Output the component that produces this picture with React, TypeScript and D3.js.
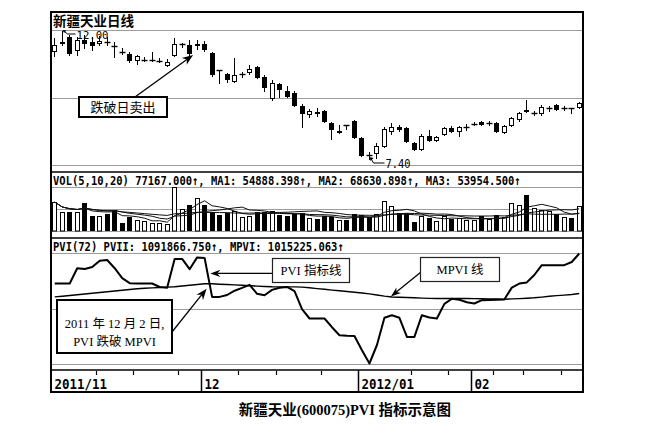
import React from "react";
import * as d3 from "d3";

// ---------------- data ----------------
const opens = [
  11.25, 11.54, 11.77, 11.29, 11.68, 11.61, 11.54, 11.61, 11.47, 11.25,
  11.18, 10.93, 10.97, 10.93, 10.91, 10.75, 11.11, 11.54, 11.5, 11.47,
  11.54, 11.22, 10.61, 10.47, 10.18, 10.43, 10.5, 10.72, 10.36, 9.57,
  10.11, 9.86, 9.79, 9.33, 9.0, 9.11, 9.15, 8.72, 8.36, 8.65,
  8.79, 8.18, 7.58, 7.61, 7.86, 8.4, 8.58, 8.54, 8.01, 7.76,
  8.26, 8.08, 8.29, 8.54, 8.4, 8.54, 8.68, 8.75, 8.72, 8.72,
  8.36, 8.61, 8.83, 9.18, 9.04, 9.04, 9.25, 9.36, 9.25, 9.25,
  9.25,
];
const closes = [
  11.5, 11.61, 11.18, 11.68, 11.54, 11.47, 11.64, 11.59, 11.45, 11.23,
  10.93, 11.11, 10.98, 10.95, 10.93, 10.89, 11.54, 11.55, 11.18, 11.54,
  11.32, 10.43, 10.57, 10.25, 10.43, 10.45, 10.64, 10.32, 9.97, 10.15,
  9.9, 9.65, 9.33, 9.04, 9.15, 9.04, 8.75, 8.47, 8.43, 8.61,
  8.18, 7.54, 7.56, 7.9, 8.51, 8.58, 8.47, 8.04, 7.76, 8.26,
  8.08, 8.22, 8.54, 8.4, 8.58, 8.56, 8.7, 8.65, 8.72, 8.4,
  8.61, 8.9, 9.08, 9.11, 9.06, 9.29, 9.25, 9.18, 9.27, 9.24,
  9.43,
];
const highs = [
  11.75, 12.0, 11.86, 11.79, 11.86, 11.79, 11.82, 11.79, 11.61, 11.39,
  11.25, 11.14, 11.07, 11.25, 11.04, 11.0, 11.75, 11.57, 11.68, 11.68,
  11.64, 11.25, 10.61, 10.5, 11.04, 10.54, 10.79, 10.75, 10.43, 10.25,
  10.15, 10.04, 9.86, 9.4, 9.22, 9.25, 9.18, 8.75, 8.65, 8.65,
  8.83, 8.22, 7.68, 8.01, 8.58, 8.72, 8.65, 8.58, 8.04, 8.33,
  8.47, 8.26, 8.58, 8.61, 8.61, 8.68, 8.75, 8.79, 8.79, 8.75,
  8.65, 8.93, 9.11, 9.54, 9.15, 9.36, 9.33, 9.4, 9.33, 9.27,
  9.47,
];
const lows = [
  11.07, 11.47, 11.11, 11.11, 11.36, 11.29, 11.47, 11.47, 11.04, 11.14,
  10.86, 10.79, 10.89, 10.89, 10.86, 10.72, 11.07, 11.39, 11.11, 11.32,
  11.25, 10.36, 10.11, 10.15, 10.15, 10.32, 10.43, 10.29, 9.82, 9.5,
  9.61, 9.61, 9.29, 8.54, 8.9, 8.93, 8.72, 8.11, 8.33, 8.47,
  8.15, 7.51, 7.4, 7.44, 7.83, 8.29, 8.4, 8.01, 7.72, 7.72,
  8.04, 8.04, 8.26, 8.36, 8.22, 8.43, 8.61, 8.61, 8.61, 8.36,
  8.33, 8.58, 8.75, 9.08, 8.97, 8.97, 9.11, 9.15, 9.15, 9.04,
  9.22,
];
const volumes = [
  89500, 59000, 58000, 59500, 87000, 47500, 47000, 52500, 65000, 25000,
  44000, 34000, 29500, 25000, 25500, 22000, 136000, 68000, 80000, 103000,
  80000, 59000, 50000, 56000, 62000, 44000, 47000, 58000, 60000, 62000,
  48000, 45000, 52000, 55000, 40000, 38000, 46000, 44000, 35000, 33000,
  52000, 50000, 42000, 52000, 93000, 77000, 56000, 57000, 27000, 45000,
  40000, 32000, 45000, 38000, 40000, 34000, 33000, 45000, 36000, 48000,
  42000, 88000, 80000, 110000, 70000, 64000, 62000, 52000, 43000, 40000,
  77167,
];
const pviValues = [
  1034385, 1034385, 1034385, 1063700, 1062167, 1065999, 1078070, 1079411, 1063700, 1044540,
  1034960, 1034385, 1034385, 1034385, 1027679, 1026338, 1081327, 1081519, 1061784, 1084393,
  1083243, 1008711, 1008711, 1012351, 1020590, 1025955, 1031894, 1014650, 1011968, 1022123,
  1026338, 1027871, 1019632, 985144, 967325, 967325, 967325, 950656, 935328, 934370,
  933795, 906588, 881105, 916551, 968858, 973647, 968666, 932071, 932071, 973647,
  969241, 967325, 995299, 1005262, 1003346, 998556, 996065, 1002388, 1002771, 1003346,
  1003729, 1026529, 1034193, 1036494, 1050671, 1069448, 1069448, 1069448, 1069448, 1075579,
  1091866.75,
];
const mpviValues = [
  1008711, 1010052, 1011393, 1012926, 1014267, 1015608, 1017141, 1018482, 1020015, 1021356,
  1022889, 1024230, 1025188, 1025955, 1026721, 1027487, 1028254, 1029595, 1031128, 1032469,
  1034002, 1033810, 1033044, 1032469, 1031703, 1030936, 1030170, 1029403, 1028637, 1028062,
  1027871, 1027871, 1027871, 1027487, 1026146, 1024613, 1023272, 1021739, 1020398, 1019057,
  1017524, 1016183, 1014459, 1012351, 1010243, 1008519, 1008136, 1007561, 1006987, 1006412,
  1005837, 1005645, 1005645, 1005645, 1005645, 1005645, 1005453, 1005070, 1004879, 1004687,
  1004304, 1004879, 1005453, 1006220, 1006987, 1008327, 1009860, 1011201, 1012159, 1013309,
  1015225.063,
];
const maPeriods = [5, 10, 20];
const monthLabels = ["2011/11", "12", "2012/01", "02"];
const monthStarts = [0, 20, 41, 56];
const weekTicks = [6, 11, 17, 25, 30, 36, 48, 53, 59, 63, 68];

const titleText = "新疆天业日线";
const volHeader = "VOL(5,10,20) 77167.000↑, MA1: 54888.398↑, MA2: 68630.898↑, MA3: 53954.500↑";
const pviHeader = "PVI(72) PVII: 1091866.750↑, MPVI: 1015225.063↑";
const captionText = "新疆天业(600075)PVI 指标示意图";
const sellNote = "跌破日卖出";
const pviNote = "PVI 指标线";
const mpviNote = "MPVI 线";
const crossNote = ["2011 年 12 月 2 日,", "PVI 跌破 MPVI"];
const crossIndex = 21;
const sellIndex = 18;

// ---------------- layout ----------------
const LEFT = 51;
const RIGHT = 583;
const FRAME_TOP = 12;
const FRAME_BOTTOM = 392;
const PRICE_RANGE: [number, number] = [160, 31];
const PRICE_GRID = [30, 97.5, 165];
const VOL_RANGE: [number, number] = [231, 187];
const VOL_GRID = [187, 209, 231];
const PVI_RANGE: [number, number] = [363.5, 253.5];
const PVI_GRID = [253, 308.5, 364];
const SEP = [172, 238, 370];

const MONO = "'DejaVu Sans Mono', 'Liberation Mono', monospace";
const CJK = "'Noto Sans CJK SC', sans-serif";
const SERIF = "'Liberation Serif', 'Noto Sans CJK SC', serif";

function Arrow(props: { x1: number; y1: number; x2: number; y2: number; head?: number; half?: number; sw?: number }) {
  const { x1, y1, x2, y2, head = 10, half = 3.6, sw = 1.3 } = props;
  const a = Math.atan2(y2 - y1, x2 - x1);
  const bx = x2 - head * Math.cos(a);
  const by = y2 - head * Math.sin(a);
  const px = -Math.sin(a) * half;
  const py = Math.cos(a) * half;
  const nx = x2 - head * 0.7 * Math.cos(a);
  const ny = y2 - head * 0.7 * Math.sin(a);
  return (
    <g>
      <line x1={x1} y1={y1} x2={nx} y2={ny} stroke="#000" strokeWidth={sw} />
      <path d={`M${x2},${y2}L${bx + px},${by + py}L${nx},${ny}L${bx - px},${by - py}Z`} fill="#000" />
    </g>
  );
}

export default function App() {
  const n = opens.length;
  const idx = d3.range(n);
  const x = d3.scaleBand<number>().domain(idx).range([LEFT, RIGHT]);
  const step = x.step();
  const cRaw = (i: number) => (x(i) as number) + step / 2;
  const cI = (i: number) => Math.floor(cRaw(i));

  const yP = d3.scaleLinear().domain([d3.min(lows) as number, d3.max(highs) as number]).range(PRICE_RANGE);
  const yV = d3.scaleLinear().domain([0, d3.max(volumes) as number]).range(VOL_RANGE);
  const pviExtent = d3.extent([...pviValues, ...mpviValues]) as [number, number];
  const yI = d3.scaleLinear().domain(pviExtent).range(PVI_RANGE);

  const maSeries = maPeriods.map((p) =>
    idx.map((i) => d3.mean(volumes.slice(Math.max(0, i - p + 1), i + 1)) as number)
  );
  const volLine = d3
    .line<number>()
    .x((_, i) => cRaw(i))
    .y((d) => yV(d));
  const pviLine = d3
    .line<number>()
    .x((_, i) => cRaw(i))
    .y((d) => yI(d));

  const hiVal = d3.max(highs) as number;
  const hiIdx = highs.indexOf(hiVal);
  const loVal = d3.min(lows) as number;
  const loIdx = lows.indexOf(loVal);
  const hx = cI(hiIdx) + 0.5;
  const hy = yP(hiVal);
  const lx = cI(loIdx) + 0.5;
  const ly = yP(loVal);

  // annotation anchors from data
  const sellTipX = cRaw(sellIndex) + 3.5;
  const sellTipY = yP(lows[sellIndex]) - 1;
  const dropX = (cRaw(crossIndex - 1) + cRaw(crossIndex)) / 2;
  const dropY = (yI(pviValues[crossIndex - 1]) + yI(pviValues[crossIndex])) / 2 - 4;
  const crossTipX = cRaw(crossIndex - 1) + 2;
  const crossTipY = yI(mpviValues[crossIndex - 1]) + 5;
  const mpviTipX = cRaw(45) - 1;
  const mpviTipY = yI(mpviValues[45]) - 0.5;

  return (
    <svg width={653} height={435} viewBox="0 0 653 435" style={{ display: "block", position: "absolute", left: 0, top: 0, background: "#fff" }}>
      <rect x={0} y={0} width={653} height={435} fill="#fff" />

      {/* grid lines */}
      {[...PRICE_GRID, ...VOL_GRID, ...PVI_GRID].map((g, k) => (
        <line key={"g" + k} x1={LEFT} x2={RIGHT} y1={Math.round(g) + 0.5} y2={Math.round(g) + 0.5} stroke="#9c9c9c" strokeWidth={1} />
      ))}

      {/* candles */}
      {idx.map((i) => {
        const c = cI(i);
        const yo = yP(opens[i]);
        const yc = yP(closes[i]);
        const yh = Math.round(yP(highs[i]));
        const yl = Math.round(yP(lows[i]));
        const top = Math.round(Math.min(yo, yc));
        const bot = Math.round(Math.max(yo, yc));
        const up = closes[i] > opens[i];
        const doji = bot - top < 1.5;
        return (
          <g key={"c" + i}>
            <line x1={c + 0.5} x2={c + 0.5} y1={yh} y2={yl} stroke="#000" strokeWidth={1} />
            {doji ? (
              <line x1={c - 2.5} x2={c + 3.5} y1={top + 0.5} y2={top + 0.5} stroke="#000" strokeWidth={1.4} />
            ) : up ? (
              <rect x={c - 1.5} y={top + 0.5} width={4} height={bot - top - 1} fill="#fff" stroke="#000" strokeWidth={1} />
            ) : (
              <rect x={c - 2} y={top} width={5} height={bot - top} fill="#000" />
            )}
          </g>
        );
      })}

      {/* high / low markers */}
      <g>
        <path d={`M${hx},${hy - 1}L${hx + 4},${hy - 0.5}L${hx + 1.5},${hy + 2}Z`} fill="#000" />
        <polyline points={`${hx + 2},${hy + 0.5} ${hx + 5},${hy + 3} ${hx + 13},${hy + 3}`} fill="none" stroke="#000" strokeWidth={1} />
        <text x={hx + 14} y={hy + 8} fontFamily={MONO} fontSize={11} textLength={32} lengthAdjust="spacingAndGlyphs" fill="#000">
          {hiVal.toFixed(2)}
        </text>
        <path d={`M${lx},${ly - 3}L${lx + 4},${ly - 2}L${lx + 1},${ly + 1}Z`} fill="#000" />
        <polyline points={`${lx + 1.5},${ly - 1.5} ${lx + 4},${ly + 3} ${lx + 15},${ly + 3}`} fill="none" stroke="#000" strokeWidth={1} />
        <text x={lx + 16} y={ly + 8} fontFamily={MONO} fontSize={12} textLength={25} lengthAdjust="spacingAndGlyphs" fill="#000">
          {loVal.toFixed(2)}
        </text>
      </g>

      {/* volume bars */}
      {idx.map((i) => {
        const c = cI(i);
        const t = Math.round(yV(volumes[i]));
        const b = Math.round(yV(0));
        const up = closes[i] >= opens[i];
        return up ? (
          <rect key={"v" + i} x={c - 1.5} y={t + 0.5} width={4} height={b - t - 0.5} fill="#fff" stroke="#000" strokeWidth={1} />
        ) : (
          <rect key={"v" + i} x={c - 2} y={t} width={5} height={b - t} fill="#000" />
        );
      })}
      {maSeries.map((s, k) => (
        <path key={"ma" + k} d={volLine(s) as string} fill="none" stroke="#111" strokeWidth={1} />
      ))}

      {/* PVI lines */}
      <path d={pviLine(mpviValues) as string} fill="none" stroke="#000" strokeWidth={1.4} />
      <path d={pviLine(pviValues) as string} fill="none" stroke="#000" strokeWidth={2} strokeLinejoin="round" />

      {/* frame and separators */}
      <rect x={LEFT} y={FRAME_TOP} width={RIGHT - LEFT} height={FRAME_BOTTOM - FRAME_TOP} fill="none" stroke="#000" strokeWidth={2} />
      {SEP.map((s, k) => (
        <line key={"s" + k} x1={LEFT} x2={RIGHT} y1={s} y2={s} stroke="#000" strokeWidth={1.6} />
      ))}

      {/* headers */}
      <text x={53} y={26} fontFamily={CJK} fontWeight={700} fontSize={13.5} fill="#000">
        {titleText}
      </text>
      <text x={53} y={184.5} fontFamily={MONO} fontWeight={700} fontSize={12.5} textLength={volHeader.length * 6.32} lengthAdjust="spacingAndGlyphs" fill="#000">
        {volHeader}
      </text>
      <text x={53} y={251} fontFamily={MONO} fontWeight={700} fontSize={12.5} textLength={pviHeader.length * 6.32} lengthAdjust="spacingAndGlyphs" fill="#000">
        {pviHeader}
      </text>

      {/* time axis */}
      {weekTicks.map((t, k) => {
        const tx = Math.round(x(t) as number) + 0.5;
        return <line key={"t" + k} x1={tx} x2={tx} y1={371} y2={375} stroke="#000" strokeWidth={1.2} />;
      })}
      {monthStarts.map((m, k) => {
        const mx = Math.round(x(m) as number) + 0.5;
        return (
          <g key={"m" + k}>
            {k > 0 && <line x1={mx} x2={mx} y1={370} y2={FRAME_BOTTOM} stroke="#000" strokeWidth={1.5} />}
            <text
              x={mx + 3}
              y={388.5}
              fontFamily={MONO}
              fontWeight={700}
              fontSize={14}
              textLength={monthLabels[k].length * 7.5}
              lengthAdjust="spacingAndGlyphs"
              fill="#000"
            >
              {monthLabels[k]}
            </text>
          </g>
        );
      })}

      {/* annotation: sell */}
      <Arrow x1={135} y1={97} x2={sellTipX} y2={sellTipY} head={11} half={4.2} />
      <rect x={79} y={97} width={88} height={20} fill="#fff" stroke="#000" strokeWidth={2} />
      <text x={123} y={112} textAnchor="middle" fontFamily={SERIF} fontSize={13} fill="#000">
        {sellNote}
      </text>

      {/* annotation: PVI line */}
      <Arrow x1={272} y1={dropY} x2={dropX + 2} y2={dropY} head={10} half={3.6} />
      <rect x={272.5} y={258.5} width={77} height={24} fill="#fff" stroke="#222" strokeWidth={1.2} />
      <text x={311} y={275} textAnchor="middle" fontFamily={SERIF} fontSize={12.5} fill="#000">
        {pviNote}
      </text>

      {/* annotation: MPVI line */}
      <Arrow x1={421} y1={272} x2={mpviTipX} y2={mpviTipY} head={10} half={3.6} />
      <rect x={420.5} y={257.5} width={79} height={24} fill="#fff" stroke="#222" strokeWidth={1.2} />
      <text x={460} y={274} textAnchor="middle" fontFamily={SERIF} fontSize={12.5} fill="#000">
        {mpviNote}
      </text>

      {/* annotation: crossing date */}
      <Arrow x1={172} y1={332} x2={crossTipX} y2={crossTipY} head={11} half={4.2} />
      <rect x={57} y={300} width={115} height={53} fill="#fff" stroke="#000" strokeWidth={2} />
      <text x={114.5} y={327.5} textAnchor="middle" fontFamily={SERIF} fontSize={12.5} fill="#000">
        {crossNote[0]}
      </text>
      <text x={114.5} y={346} textAnchor="middle" fontFamily={SERIF} fontSize={12.5} fill="#000">
        {crossNote[1]}
      </text>

      {/* caption */}
      <text x={345} y={415} textAnchor="middle" fontFamily={SERIF} fontWeight={700} fontSize={14.5} fill="#000">
        {captionText}
      </text>
    </svg>
  );
}
